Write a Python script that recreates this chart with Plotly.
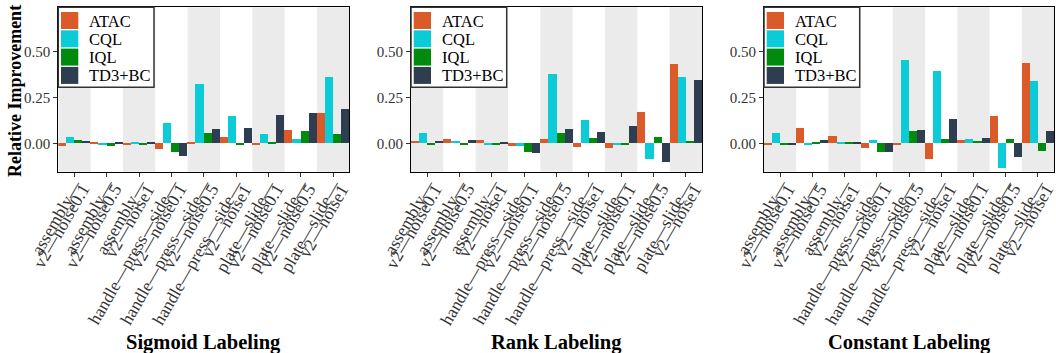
import plotly.graph_objects as go

# Task tick labels (two stacked lines per task) and methods
tick_line1 = [
    "assembly—", "assembly—", "assembly—",
    "handle—press—side—", "handle—press—side—", "handle—press—side—",
    "plate—slide—", "plate—slide—", "plate—slide—",
]
tick_line2 = [
    "v2—noise0.1", "v2—noise0.5", "v2—noise1",
    "v2—noise0.1", "v2—noise0.5", "v2—noise1",
    "v2—noise0.1", "v2—noise0.5", "v2—noise1",
]
methods = ["ATAC", "CQL", "IQL", "TD3+BC"]
method_colors = ["#DA5A2A", "#0BCCD6", "#008B0F", "#2E3D4F"]
panel_titles = ["Sigmoid Labeling", "Rank Labeling", "Constant Labeling"]

# Relative improvement per method, Sigmoid labeling
sigmoid_atac = [-0.016, 0.009, -0.011, -0.033, 0.004, 0.036, -0.005, 0.074, 0.167]
sigmoid_cql = [0.033, -0.005, 0.004, 0.112, 0.324, 0.150, 0.053, 0.025, 0.362]
sigmoid_iql = [0.020, -0.016, -0.011, -0.049, 0.058, -0.005, 0.009, 0.069, 0.053]
sigmoid_td3bc = [0.014, 0.004, 0.004, -0.071, 0.080, 0.085, 0.156, 0.167, 0.188]

# Rank labeling
rank_atac = [0.014, 0.025, 0.020, -0.016, 0.025, -0.022, -0.027, 0.172, 0.433]
rank_cql = [0.058, 0.014, -0.005, -0.016, 0.379, 0.129, -0.005, -0.087, 0.362]
rank_iql = [-0.011, -0.011, -0.011, -0.049, 0.058, 0.031, -0.005, 0.036, 0.014]
rank_td3bc = [0.014, 0.020, 0.004, -0.054, 0.080, 0.063, 0.096, -0.103, 0.346]

# Constant labeling
constant_atac = [-0.005, 0.085, 0.042, -0.027, -0.011, -0.087, 0.020, 0.150, 0.438]
constant_cql = [0.058, -0.011, 0.004, 0.020, 0.455, 0.395, 0.025, -0.136, 0.341]
constant_iql = [-0.005, 0.009, 0.004, -0.049, 0.069, 0.025, 0.014, 0.025, -0.043]
constant_td3bc = [-0.011, 0.020, 0.004, -0.049, 0.074, 0.134, 0.031, -0.076, 0.069]

y_ticks = [0.0, 0.25, 0.5]
y_tick_text = ["0.00", "0.25", "0.50"]

panels = [
    [sigmoid_atac, sigmoid_cql, sigmoid_iql, sigmoid_td3bc],
    [rank_atac, rank_cql, rank_iql, rank_td3bc],
    [constant_atac, constant_cql, constant_iql, constant_td3bc],
]

W, H = 1056, 353
FONT = "Liberation Serif"
INK = "#333333"
panel_px = [(58.3, 349.3), (411.0, 702.0), (764.0, 1054.0)]
y_top_px, y_bot_px = 7.3, 171.7
y_domain = [1 - y_bot_px / H, 1 - y_top_px / H]
y_range = [-0.152, 0.741]
x_pos = list(range(len(tick_line1)))


def px_x(v):
    return v / W


def px_y(v):
    return 1 - v / H


fig = go.Figure()
layout = {}
shapes = []
annotations = []

for p, series in enumerate(panels):
    sfx = "" if p == 0 else str(p + 1)
    xa, ya = "x" + sfx, "y" + sfx
    for m, vals, col in zip(methods, series, method_colors):
        fig.add_trace(go.Bar(
            x=x_pos, y=vals, name=m, xaxis=xa, yaxis=ya,
            marker=dict(color=col, line=dict(width=0)),
            showlegend=False,
        ))
    x0, x1 = panel_px[p]
    layout["xaxis" + sfx] = dict(
        domain=[px_x(x0), px_x(x1)], anchor=ya, range=[-0.5, len(x_pos) - 0.5],
        tickmode="array", tickvals=x_pos, showticklabels=False,
        ticks="outside", ticklen=4, tickcolor=INK,
        showline=True, linecolor="black", linewidth=1, mirror=True,
        showgrid=False, zeroline=False,
    )
    layout["yaxis" + sfx] = dict(
        domain=y_domain, anchor=xa, range=y_range,
        tickmode="array", tickvals=y_ticks, ticktext=y_tick_text,
        ticks="outside", ticklen=4, tickcolor=INK,
        showline=True, linecolor="black", linewidth=1, mirror=True,
        showgrid=False, zeroline=False,
        tickfont=dict(family=FONT, size=15, color=INK),
    )
    # alternating shaded category bands
    for i in range(0, len(x_pos), 2):
        shapes.append(dict(
            type="rect", xref=xa, yref=ya + " domain",
            x0=i - 0.5, x1=i + 0.5, y0=0, y1=1,
            fillcolor="#EBEBEB", line=dict(width=0), layer="below",
        ))
    # rotated two-line tick labels, right-aligned at each tick
    for i in x_pos:
        for text, dx, ytop in ((tick_line1[i], 14.5, 173.5), (tick_line2[i], 22.0, 178.0)):
            annotations.append(dict(
                text=text, xref=xa, yref="paper", x=i, y=px_y(ytop), xshift=dx,
                textangle=-60, xanchor="right", yanchor="top", showarrow=False,
                font=dict(family=FONT, size=17.5, color=INK),
            ))
    # legend box
    shapes.append(dict(
        type="rect", xref="paper", yref="paper",
        x0=px_x(x0), x1=px_x(x0 + 95.7), y0=px_y(87.3), y1=px_y(y_top_px),
        fillcolor="white", line=dict(color=INK, width=1.5), layer="above",
    ))
    for k, (m, col) in enumerate(zip(methods, method_colors)):
        top = 12.0 + k * 18.3
        shapes.append(dict(
            type="rect", xref="paper", yref="paper",
            x0=px_x(x0 + 2.7), x1=px_x(x0 + 20.0), y0=px_y(top + 17.0), y1=px_y(top),
            fillcolor=col, line=dict(width=0), layer="above",
        ))
        annotations.append(dict(
            text=m, xref="paper", yref="paper", x=px_x(x0 + 28.5), y=px_y(top + 9.0),
            xanchor="left", yanchor="middle", showarrow=False,
            font=dict(family=FONT, size=16.5, color="black"),
        ))
    annotations.append(dict(
        text="<b>" + panel_titles[p] + "</b>", xref="paper", yref="paper",
        x=px_x((x0 + x1) / 2), y=px_y(342), showarrow=False,
        xanchor="center", yanchor="middle",
        font=dict(family=FONT, size=20.5, color="black"),
    ))

annotations.append(dict(
    text="<b>Relative Improvement</b>", xref="paper", yref="paper",
    x=px_x(15), y=px_y(91), showarrow=False, textangle=-90,
    xanchor="center", yanchor="middle",
    font=dict(family=FONT, size=18, color="black"),
))

fig.update_layout(
    **layout,
    width=W, height=H,
    margin=dict(l=0, r=0, t=0, b=0),
    paper_bgcolor="white", plot_bgcolor="white",
    barmode="group", bargap=0, bargroupgap=0,
    shapes=shapes, annotations=annotations,
    font=dict(family=FONT),
    showlegend=False,
)

fig.write_html("out.html")
